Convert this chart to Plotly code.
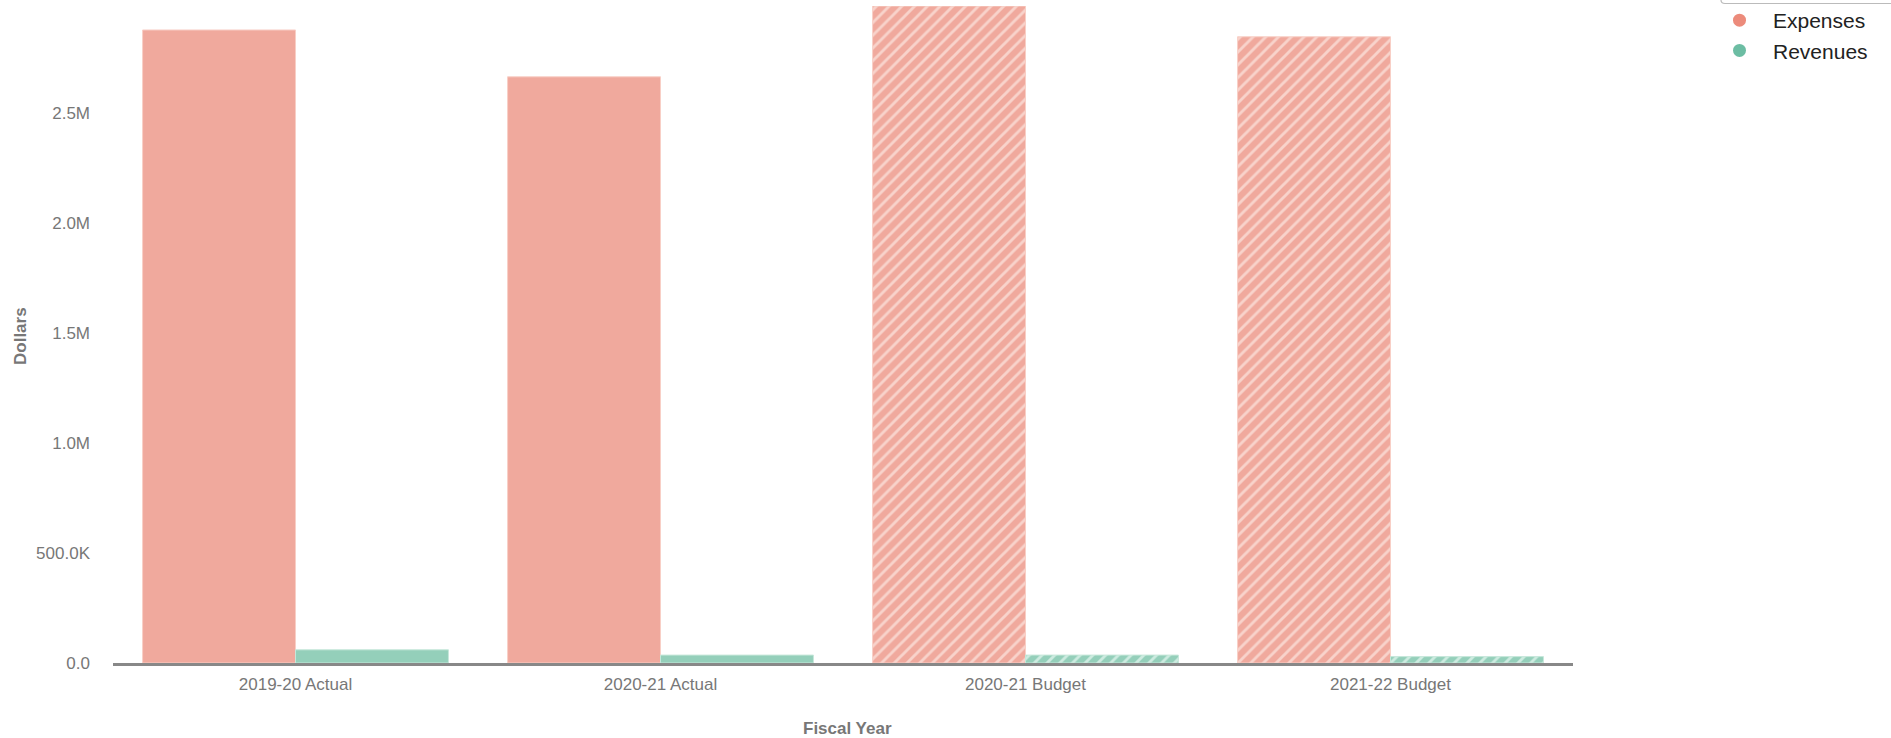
import plotly.graph_objects as go

categories = ["2019-20 Actual", "2020-21 Actual", "2020-21 Budget", "2021-22 Budget"]
expenses = [2879000, 2666000, 2988000, 2848000]
revenues = [60000, 36000, 36000, 29000]
is_budget = [False, False, True, True]
tick_vals = [0, 500000, 1000000, 1500000, 2000000, 2500000]
tick_text = ["0.0", "500.0K", "1.0M", "1.5M", "2.0M", "2.5M"]

EXP_LEG = "#EC8B7B"
REV_LEG = "#6CBDA3"
EXP_BAR = "#F0A99D"
REV_BAR = "#94CFBA"
EXP_STRIPE = "#F8D3CB"
REV_STRIPE = "#CDEBE0"

W, H = 1891, 738
L, R, T, B = 113, 318, 6, 75
PW, PH = W - L - R, H - T - B
FONT = "Liberation Sans, Arial, sans-serif"


def px_x(p):
    return (p - L) / PW


def px_y(p):
    return (H - B - p) / PH


fig = go.Figure()

for name, vals, bar_col, stripe_col, line_col in [
    ("Expenses", expenses, EXP_BAR, EXP_STRIPE, "#F8CFC6"),
    ("Revenues", revenues, REV_BAR, REV_STRIPE, "#C6E7DA"),
]:
    fig.add_trace(go.Bar(
        x=categories, y=vals, name=name, showlegend=False, legendgroup=name,
        marker=dict(
            color=bar_col,
            line=dict(color=line_col, width=1),
            pattern=dict(
                shape=["/" if b else "" for b in is_budget],
                fgcolor=stripe_col, bgcolor=bar_col,
                size=9, solidity=0.32, fillmode="replace",
            ),
        ),
        hoverinfo="x+y+name",
    ))

for name, col in [("Expenses", EXP_LEG), ("Revenues", REV_LEG)]:
    fig.add_trace(go.Scatter(
        x=[None], y=[None], mode="markers", name=name, legendgroup=name,
        marker=dict(symbol="circle", size=13, color=col), showlegend=True,
    ))

fig.update_layout(
    width=W, height=H,
    margin=dict(l=L, r=R, t=T, b=B, autoexpand=False),
    paper_bgcolor="white", plot_bgcolor="white",
    barmode="group", bargap=0.162, bargroupgap=0,
    font=dict(family=FONT, color="#777777", size=17),
    showlegend=True,
    legend=dict(
        x=px_x(1706), xanchor="left",
        y=px_y(0), yanchor="top",
        font=dict(family=FONT, size=21, color="#222222"),
        itemwidth=57, tracegroupgap=0,
        bgcolor="rgba(0,0,0,0)",
    ),
    xaxis=dict(
        type="category", range=[-0.5, 3.5],
        showline=True, linecolor="#888888", linewidth=3,
        showgrid=False, zeroline=False, ticks="",
        ticklabelstandoff=4,
        tickfont=dict(family=FONT, size=17, color="#777777"),
        fixedrange=True,
    ),
    yaxis=dict(
        range=[0, max(expenses)],
        tickvals=tick_vals, ticktext=tick_text,
        showline=False, showgrid=False, zeroline=False, ticks="",
        ticklabelstandoff=22,
        tickfont=dict(family=FONT, size=17, color="#777777"),
        fixedrange=True,
    ),
    annotations=[
        dict(text="<b>Dollars</b>", textangle=-90, xref="paper", yref="paper",
             x=px_x(20), y=px_y(336), showarrow=False,
             font=dict(family=FONT, size=17, color="#777777"),
             xanchor="center", yanchor="middle"),
        dict(text="<b>Fiscal Year</b>", xref="paper", yref="paper",
             x=px_x(847), y=px_y(728), showarrow=False,
             font=dict(family=FONT, size=17, color="#777777"),
             xanchor="center", yanchor="middle"),
    ],
    shapes=[
        dict(type="path", xref="paper", yref="paper",
             path=(f"M {px_x(1721)} {px_y(-10)} L {px_x(1721)} {px_y(0)} "
                   f"Q {px_x(1721)} {px_y(3.5)} {px_x(1725)} {px_y(3.5)} "
                   f"L {px_x(1900)} {px_y(3.5)}"),
             line=dict(color="#BBBBBB", width=1.2)),
    ],
)

fig.write_html(
    "out.html",
    config={"displayModeBar": False},
    post_script="document.body.style.margin='0';document.body.style.overflow='hidden';",
)
